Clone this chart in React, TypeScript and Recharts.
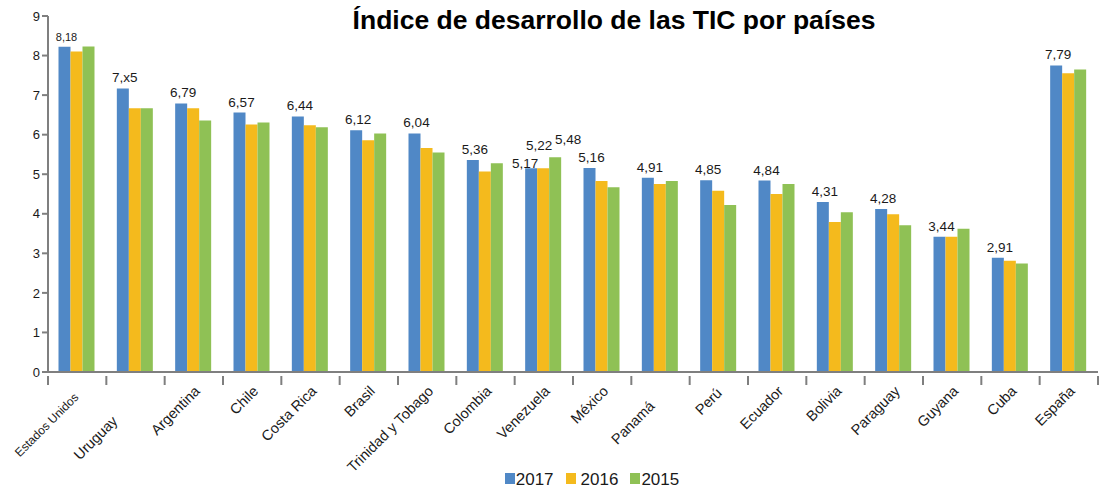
import { BarChart, Bar, XAxis, YAxis, Legend, LabelList } from 'recharts';

const countries = [
  'Estados Unidos', 'Uruguay', 'Argentina', 'Chile', 'Costa Rica', 'Brasil',
  'Trinidad y Tobago', 'Colombia', 'Venezuela', 'México', 'Panamá', 'Perú',
  'Ecuador', 'Bolivia', 'Paraguay', 'Guyana', 'Cuba', 'España',
];

const values2017 = [8.22, 7.17, 6.79, 6.56, 6.46, 6.11, 6.03, 5.36, 5.15, 5.16, 4.91, 4.85, 4.84, 4.30, 4.12, 3.42, 2.89, 7.75];
const values2016 = [8.10, 6.67, 6.67, 6.26, 6.24, 5.86, 5.66, 5.07, 5.15, 4.83, 4.75, 4.58, 4.50, 3.79, 3.99, 3.42, 2.81, 7.55];
const values2015 = [8.23, 6.67, 6.36, 6.31, 6.19, 6.03, 5.55, 5.28, 5.43, 4.67, 4.83, 4.22, 4.75, 4.04, 3.71, 3.62, 2.74, 7.65];

// etiquetas tal como aparecen en el original (incluida la errata "7,x5")
const labels2017 = ['8,18', '7,x5', '6,79', '6,57', '6,44', '6,12', '6,04', '5,36', '5,17', '5,16', '4,91', '4,85', '4,84', '4,31', '4,28', '3,44', '2,91', '7,79'];
const labels2016 = ['', '', '', '', '', '', '', '', '5,22', '', '', '', '', '', '', '', '', ''];
const labels2015 = ['', '', '', '', '', '', '', '', '5,48', '', '', '', '', '', '', '', '', ''];

const yTicks = [0, 1, 2, 3, 4, 5, 6, 7, 8, 9];

const data = countries.map((c, i) => ({
  pais: c,
  '2017': values2017[i],
  '2016': values2016[i],
  '2015': values2015[i],
  l2017: labels2017[i],
  l2016: labels2016[i],
  l2015: labels2015[i],
}));

const COLORS = { '2017': '#5088C6', '2016': '#F4BA1D', '2015': '#8FC155' };
const FONT = '"Liberation Sans", Arial, Helvetica, sans-serif';
const AXIS = '#7f7f7f';

// algunas etiquetas del eje no siguen la posición normal en el original
const tickShift: Record<string, [number, number]> = {
  'Estados Unidos': [-5, 6],
  Uruguay: [-24, 30],
  'Panamá': [-12, 15],
  'Perú': [-3, 2],
};

const CountryTick = (props: any) => {
  const { x, y, payload, index } = props;
  const band = 1050 / countries.length;
  const name = payload.value as string;
  const [dx, dy] = tickShift[name] || [0, 0];
  const small = name === 'Estados Unidos';
  const tx = x + 7 + dx;
  const ty = y + 12 + dy;
  return (
    <g>
      <line x1={x - band / 2} y1={y - 4} x2={x - band / 2} y2={y + 5} stroke={AXIS} strokeWidth={2} />
      {index === countries.length - 1 && (
        <line x1={x + band / 2} y1={y - 4} x2={x + band / 2} y2={y + 5} stroke={AXIS} strokeWidth={2} />
      )}
      <text
        x={tx}
        y={ty}
        textAnchor="end"
        transform={`rotate(-45, ${tx}, ${ty})`}
        fontSize={small ? 12 : 14.5}
        fill="#1a1a1a"
        fontFamily={FONT}
      >
        {name}
      </text>
    </g>
  );
};

// desplazamientos particulares de algunas etiquetas (Venezuela, 2017)
const blueShift: Record<number, [number, number]> = { 8: [-6, 0] };

const makeLabel = (dx: number, dy: number, size: (i: number) => number, shift: Record<number, [number, number]> = {}) =>
  (props: any) => {
    const { x, y, width, value, index } = props;
    if (!value) return null;
    const [sx, sy] = shift[index] || [dx, dy];
    return (
      <text
        x={x + width / 2 + sx}
        y={y - sy}
        textAnchor="middle"
        fontSize={size(index)}
        fill="#1a1a1a"
        fontFamily={FONT}
      >
        {value}
      </text>
    );
  };

const blueLabel = makeLabel(2, 6, (i) => (i === 0 ? 11 : 13.5), blueShift);
const yellowLabel = makeLabel(-4, 18, () => 13.5);
const greenLabel = makeLabel(13, 13, () => 13.5);

const LegendContent = () => (
  <div style={{ display: 'flex', justifyContent: 'center', fontFamily: FONT, fontSize: 17, color: '#1a1a1a', paddingLeft: 98, lineHeight: '20px' }}>
    {(['2017', '2016', '2015'] as const).map((k) => (
      <div key={k} style={{ display: 'flex', alignItems: 'center', marginRight: 12 }}>
        <span style={{ display: 'inline-block', width: 10, height: 11, background: COLORS[k], marginRight: k === '2016' ? 5 : 1, marginTop: -3 }} />
        <span>{k}</span>
      </div>
    ))}
  </div>
);

export default function App() {
  return (
    <div style={{ position: 'absolute', left: 0, top: 0, width: 1099, height: 489, background: '#fff' }}>
      <div
        style={{
          position: 'absolute',
          left: 0,
          width: 1228,
          top: 5,
          textAlign: 'center',
          fontFamily: FONT,
          fontWeight: 'bold',
          fontSize: 26.5,
          color: '#000',
          zIndex: 2,
        }}
      >
        Índice de desarrollo de las TIC por países
      </div>
      <BarChart
        width={1099}
        height={489}
        data={data}
        margin={{ top: 16, right: 1, left: 0, bottom: 2 }}
        barCategoryGap="18%"
        barGap={0}
      >
        <XAxis
          dataKey="pais"
          interval={0}
          height={76}
          axisLine={{ stroke: AXIS, strokeWidth: 2 }}
          tickLine={false}
          tick={<CountryTick />}
        />
        <YAxis
          width={48}
          domain={[0, 9]}
          ticks={yTicks}
          interval={0}
          axisLine={{ stroke: AXIS, strokeWidth: 2 }}
          tickLine={{ stroke: AXIS, strokeWidth: 2 }}
          tickSize={6}
          tick={{ fill: '#1a1a1a', fontSize: 13, fontFamily: FONT }}
        />
        <Legend
          verticalAlign="bottom"
          height={39}
          content={<LegendContent />}
          wrapperStyle={{ top: 470, bottom: 'auto', left: 0 }}
        />
        <Bar dataKey="2017" fill={COLORS['2017']} isAnimationActive={false}>
          <LabelList dataKey="l2017" content={blueLabel} />
        </Bar>
        <Bar dataKey="2016" fill={COLORS['2016']} isAnimationActive={false}>
          <LabelList dataKey="l2016" content={yellowLabel} />
        </Bar>
        <Bar dataKey="2015" fill={COLORS['2015']} isAnimationActive={false}>
          <LabelList dataKey="l2015" content={greenLabel} />
        </Bar>
      </BarChart>
    </div>
  );
}
